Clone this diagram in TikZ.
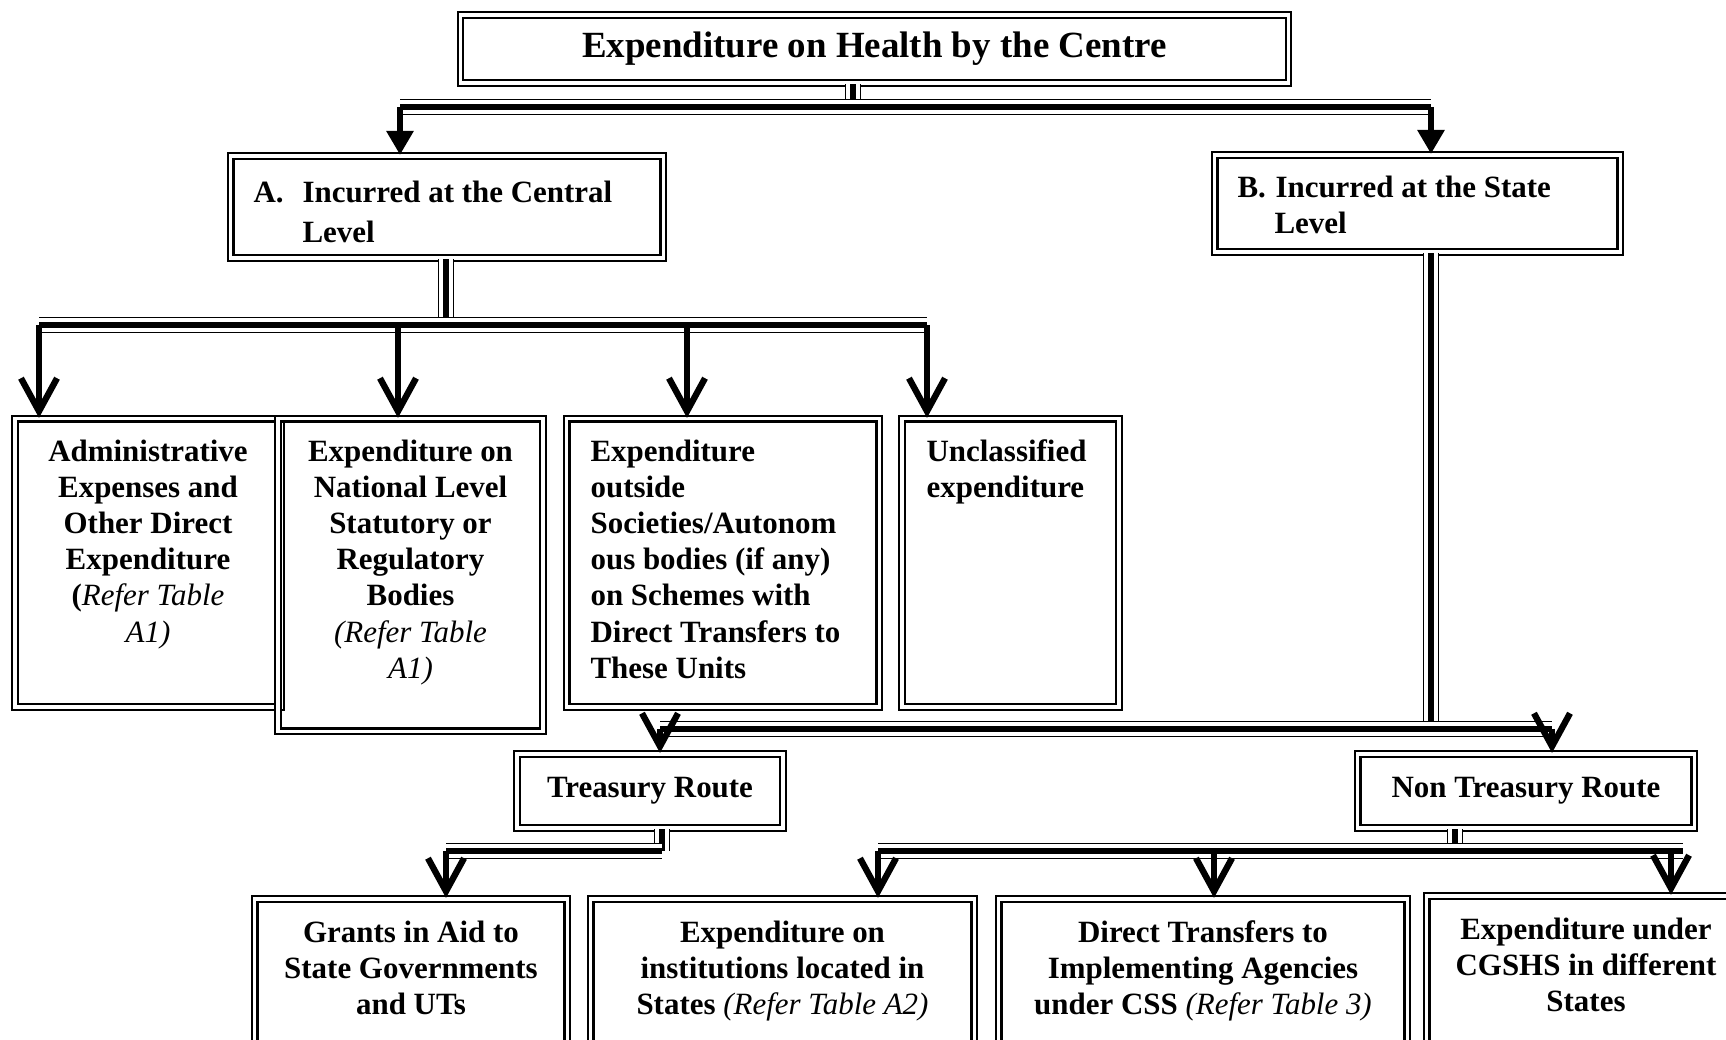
\documentclass[tikz,border=0pt]{standalone}
\usepackage{fontspec}
\setmainfont{Liberation Serif}
\usetikzlibrary{positioning, arrows.meta}
\newcommand\reftab[1]{{\mdseries\itshape #1}}

\begin{document}
\begin{tikzpicture}[
    x=0.01cm, y=-0.01cm,
    box/.style={rectangle, draw=black, line width=0.6pt, double, double distance=0.9pt, inner sep=0pt, font=\bfseries\fontsize{8.8}{10.3}\selectfont},
    txt/.style={inner sep=0pt, align=center, font=\bfseries\fontsize{8.8}{10.3}\selectfont},
    lefttxt/.style={txt, align=left},
    triple/.style={draw=black, line width=4.8pt, postaction={draw=white, line width=3.9pt}, postaction={draw=black, line width=1.6pt}},
    headarrow/.style={line width=1.7pt, -{Triangle[length=0.24cm, width=0.26cm]}},
    openarrow/.style={line width=1.8pt, -{Straight Barb[length=0.33cm, width=0.36cm]}},
]
\useasboundingbox (0,0) rectangle (1726,1040);
\clip (0,0) rectangle (1726,1040);

% Top block
\node[box, minimum width=8.27cm, minimum height=0.68cm, font=\bfseries\fontsize{10.5}{12}\selectfont] (title) at (874.5,49) {Expenditure on Health by the Centre};

% A and B levels
\node[box, minimum width=4.32cm, minimum height=1.02cm] (central) at (447,207) {};
\node[lefttxt, font=\bfseries\fontsize{8.8}{11.4}\selectfont, below right=0.25cm and 0.23cm of central.north west] (centraltxt) {\makebox[0.49cm][l]{A.}Incurred at the Central\\\hspace*{0.49cm}Level};
\node[box, minimum width=4.05cm, minimum height=0.97cm] (state) at (1417.5,203.5) {};
\node[lefttxt, below right=0.21cm and 0.23cm of state.north west] (statetxt) {\makebox[0.38cm][l]{B.}Incurred at the State\\\hspace*{0.37cm}Level};

% Central level heads
\node[box, minimum width=2.66cm, minimum height=2.88cm] (admin) at (148,563) {};
\node[txt, below=0.21cm of admin.north] (admintxt) {Administrative\\Expenses and\\Other Direct\\Expenditure\\(\reftab{Refer Table}\\\reftab{A1)}};
\node[box, minimum width=2.65cm, minimum height=3.12cm] (national) at (410.5,575) {};
\node[txt, below=0.21cm of national.north] (nationaltxt) {Expenditure on\\National Level\\Statutory or\\Regulatory\\Bodies\\\reftab{(Refer Table}\\\reftab{A1)}};
\node[box, minimum width=3.12cm, minimum height=2.88cm] (outside) at (723,563) {};
\node[lefttxt, below right=0.21cm and 0.24cm of outside.north west] (outsidetxt) {Expenditure\\outside\\Societies/Autonom\\ous bodies (if any)\\on Schemes with\\Direct Transfers to\\These Units};
\node[box, minimum width=2.17cm, minimum height=2.88cm] (unclass) at (1010.5,563) {};
\node[lefttxt, below right=0.21cm and 0.25cm of unclass.north west] (unclasstxt) {Unclassified\\expenditure};

% Routes
\node[box, minimum width=2.66cm, minimum height=0.74cm] (treasury) at (650,791) {Treasury Route};
\node[box, minimum width=3.36cm, minimum height=0.74cm] (nontreasury) at (1526,791) {Non Treasury Route};

% Bottom row
\node[box, minimum width=3.12cm, minimum height=2.2cm] (grants) at (411,1009) {};
\node[txt, below=0.22cm of grants.north] (grantstxt) {Grants in Aid to\\State Governments\\and UTs};
\node[box, minimum width=3.83cm, minimum height=2.2cm] (institutions) at (782.5,1009) {};
\node[txt, below=0.22cm of institutions.north] (institutionstxt) {Expenditure on\\institutions located in\\States \reftab{(Refer Table A2)}};
\node[box, minimum width=4.08cm, minimum height=2.2cm] (direct) at (1203,1009) {};
\node[txt, below=0.22cm of direct.north] (directtxt) {Direct Transfers to\\Implementing Agencies\\under CSS \reftab{(Refer Table 3)}};
\node[box, minimum width=3.18cm, minimum height=2.2cm] (cgshs) at (1586,1006) {};
\node[txt, below=0.22cm of cgshs.north] (cgshstxt) {Expenditure under\\CGSHS in different\\States};

% Joints on the buses
\coordinate (t0) at (853,107);
\coordinate (tL) at (400,107);
\coordinate (tR) at (1431,107);
\coordinate (a0) at (446,325);
\coordinate (r1) at (39,325);
\coordinate (r2) at (398,325);
\coordinate (r3) at (687,325);
\coordinate (r4) at (927,325);
\coordinate (b0) at (1431,729);
\coordinate (m1) at (660,729);
\coordinate (m2) at (1552,729);
\coordinate (q0) at (662,851);
\coordinate (q1) at (446,851);
\coordinate (n0) at (1455,851);
\coordinate (n1) at (878,851);
\coordinate (n2) at (1214,851);
\coordinate (n3) at (1671,851);
\coordinate (n4) at (1683,851);

% Centre to A and B
\draw[triple] (title.south -| t0) -- (t0);
\draw[triple] (tL) -- (tR);
\draw[headarrow] (tL) -- (tL |- central.north);
\draw[headarrow] (tR) -- (tR |- state.north);

% A to its heads
\draw[triple] (central.south -| a0) -- (a0);
\draw[triple] (r1) -- (r4);
\draw[openarrow] (r1) -- (r1 |- admin.north);
\draw[openarrow] (r2) -- (r2 |- national.north);
\draw[openarrow] (r3) -- (r3 |- outside.north);
\draw[openarrow] (r4) -- (r4 |- unclass.north);

% B to the routes
\draw[triple] (state.south -| b0) -- (b0);
\draw[triple] (m1) -- (m2);
\draw[openarrow] (m1) -- (m1 |- treasury.north);
\draw[openarrow] (m2) -- (m2 |- nontreasury.north);

% Routes to the bottom row
\draw[triple] (treasury.south -| q0) -- (q0);
\draw[triple] (q1) -- (q0);
\draw[openarrow] (q1) -- (q1 |- grants.north);
\draw[triple] (nontreasury.south -| n0) -- (n0);
\draw[triple] (n1) -- (n4);
\draw[openarrow] (n1) -- (n1 |- institutions.north);
\draw[openarrow] (n2) -- (n2 |- direct.north);
\draw[openarrow] (n3) -- (n3 |- cgshs.north);

\end{tikzpicture}
\end{document}
